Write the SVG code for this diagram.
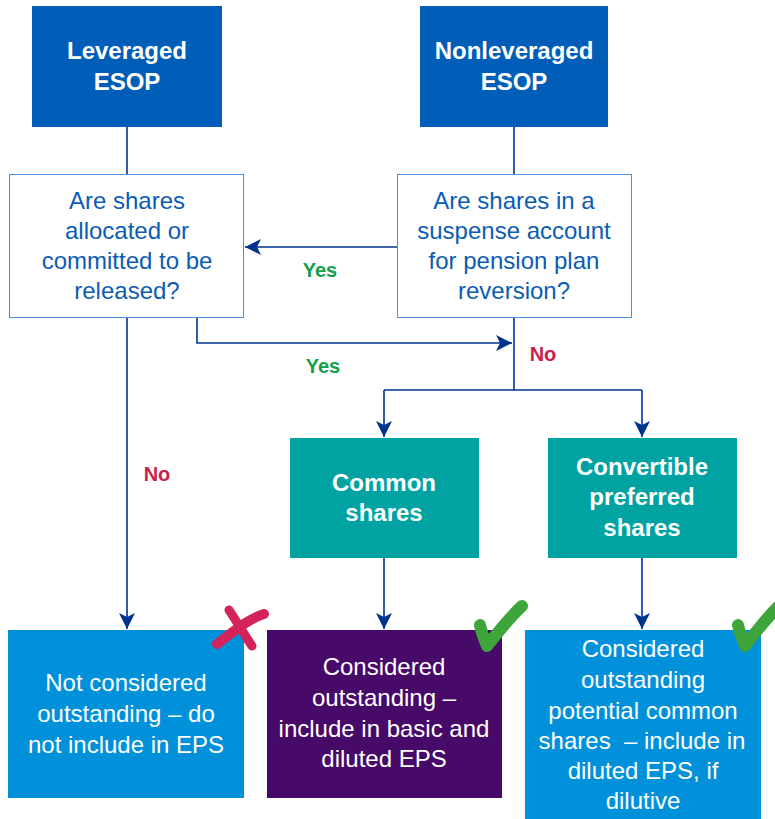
<svg xmlns="http://www.w3.org/2000/svg" width="775" height="819" viewBox="0 0 775 819">
<style>
text{font-family:"Liberation Sans",Arial,sans-serif;text-anchor:middle}
.hd{fill:#005EB8}
.hd text,.tl text{fill:#fff;font-weight:bold;font-size:24px}
.q rect{fill:#fff;stroke:#4A90D9;stroke-width:1}
.q text{fill:#0B5CB5;font-size:24px}
.tl rect{fill:#00A3A1}
.out text{fill:#fff;font-size:24px}
.c{fill:none;stroke:#00338D;stroke-width:1.6}
.yes{fill:#12A04A;font-weight:bold;font-size:20px}
.no{fill:#C8224C;font-weight:bold;font-size:20px}
.chk{fill:none;stroke:#3DA53A;stroke-width:12;stroke-linecap:round;stroke-linejoin:round}
.x{fill:none;stroke:#D4235A;stroke-linecap:round}
</style>
<defs>
<marker id="ah" markerUnits="userSpaceOnUse" markerWidth="16" markerHeight="16" viewBox="0 0 16 16" refX="16" refY="8" orient="auto">
<path d="M0 0 L16 8 L0 16 L4 8 Z" fill="#00338D"/>
</marker>
</defs>
<g id="connectors">
<path class="c" d="M127 127 V175"/>
<path class="c" d="M514 127 V175"/>
<path class="c" d="M397 247 H245" marker-end="url(#ah)"/>
<path class="c" d="M197 318 V343 H512" marker-end="url(#ah)"/>
<path class="c" d="M514 318 V390"/>
<path class="c" d="M384 390 H642"/>
<path class="c" d="M384 390 V437" marker-end="url(#ah)"/>
<path class="c" d="M642 390 V437" marker-end="url(#ah)"/>
<path class="c" d="M127 318 V629" marker-end="url(#ah)"/>
<path class="c" d="M384 558 V629" marker-end="url(#ah)"/>
<path class="c" d="M642 558 V629" marker-end="url(#ah)"/>
<text class="yes" x="320" y="277">Yes</text>
<text class="yes" x="323" y="373">Yes</text>
<text class="no" x="543" y="361">No</text>
<text class="no" x="157" y="481">No</text>
</g>
<g id="leveraged" class="hd">
<rect x="32" y="6" width="190" height="121"/>
<text x="127" y="59">Leveraged</text>
<text x="127" y="90">ESOP</text>
</g>
<g id="nonleveraged" class="hd">
<rect x="420" y="6" width="188" height="121"/>
<text x="514" y="59">Nonleveraged</text>
<text x="514" y="90">ESOP</text>
</g>
<g id="q-allocated" class="q">
<rect x="9.5" y="174.5" width="234" height="143"/>
<text x="127" y="209">Are shares</text>
<text x="127" y="239">allocated or</text>
<text x="127" y="269">committed to be</text>
<text x="127" y="299">released?</text>
</g>
<g id="q-suspense" class="q">
<rect x="397.5" y="174.5" width="234" height="143"/>
<text x="514" y="209">Are shares in a</text>
<text x="514" y="239">suspense account</text>
<text x="514" y="269">for pension plan</text>
<text x="514" y="299">reversion?</text>
</g>
<g id="common" class="tl">
<rect x="290" y="438" width="189" height="120"/>
<text x="384" y="491">Common</text>
<text x="384" y="521">shares</text>
</g>
<g id="convertible" class="tl">
<rect x="548" y="438" width="189" height="120"/>
<text x="642" y="475">Convertible</text>
<text x="642" y="505">preferred</text>
<text x="642" y="536">shares</text>
</g>
<g id="not-considered" class="out">
<rect x="8" y="630" width="236" height="168" fill="#0091DA"/>
<text x="126" y="691">Not considered</text>
<text x="126" y="722">outstanding – do</text>
<text x="126" y="753">not include in EPS</text>
</g>
<g id="considered-basic" class="out">
<rect x="267" y="630" width="235" height="168" fill="#470A68"/>
<text x="384" y="675">Considered</text>
<text x="384" y="706">outstanding –</text>
<text x="384" y="737">include in basic and</text>
<text x="384" y="767">diluted EPS</text>
</g>
<g id="considered-potential" class="out">
<rect x="525" y="630" width="236" height="189" fill="#0091DA"/>
<text x="643" y="657">Considered</text>
<text x="643" y="688">outstanding</text>
<text x="643" y="719">potential common</text>
<text x="642" y="749">shares&#160; – include in</text>
<text x="643" y="779">diluted EPS, if</text>
<text x="643" y="809">dilutive</text>
</g>
<g id="marks">
<path class="x" stroke-width="10" d="M217 644 C234 631 248 619 264 614"/>
<path class="x" stroke-width="9" d="M229 610 C237 622 244 634 252 646"/>
<path class="chk" d="M480 625 C482 634 485 641 487 646 C498 632 510 617 522 606"/>
<path class="chk" d="M738 625 C740 634 743 641 745 646 C756 632 767 617 779 606"/>
</g>
</svg>
